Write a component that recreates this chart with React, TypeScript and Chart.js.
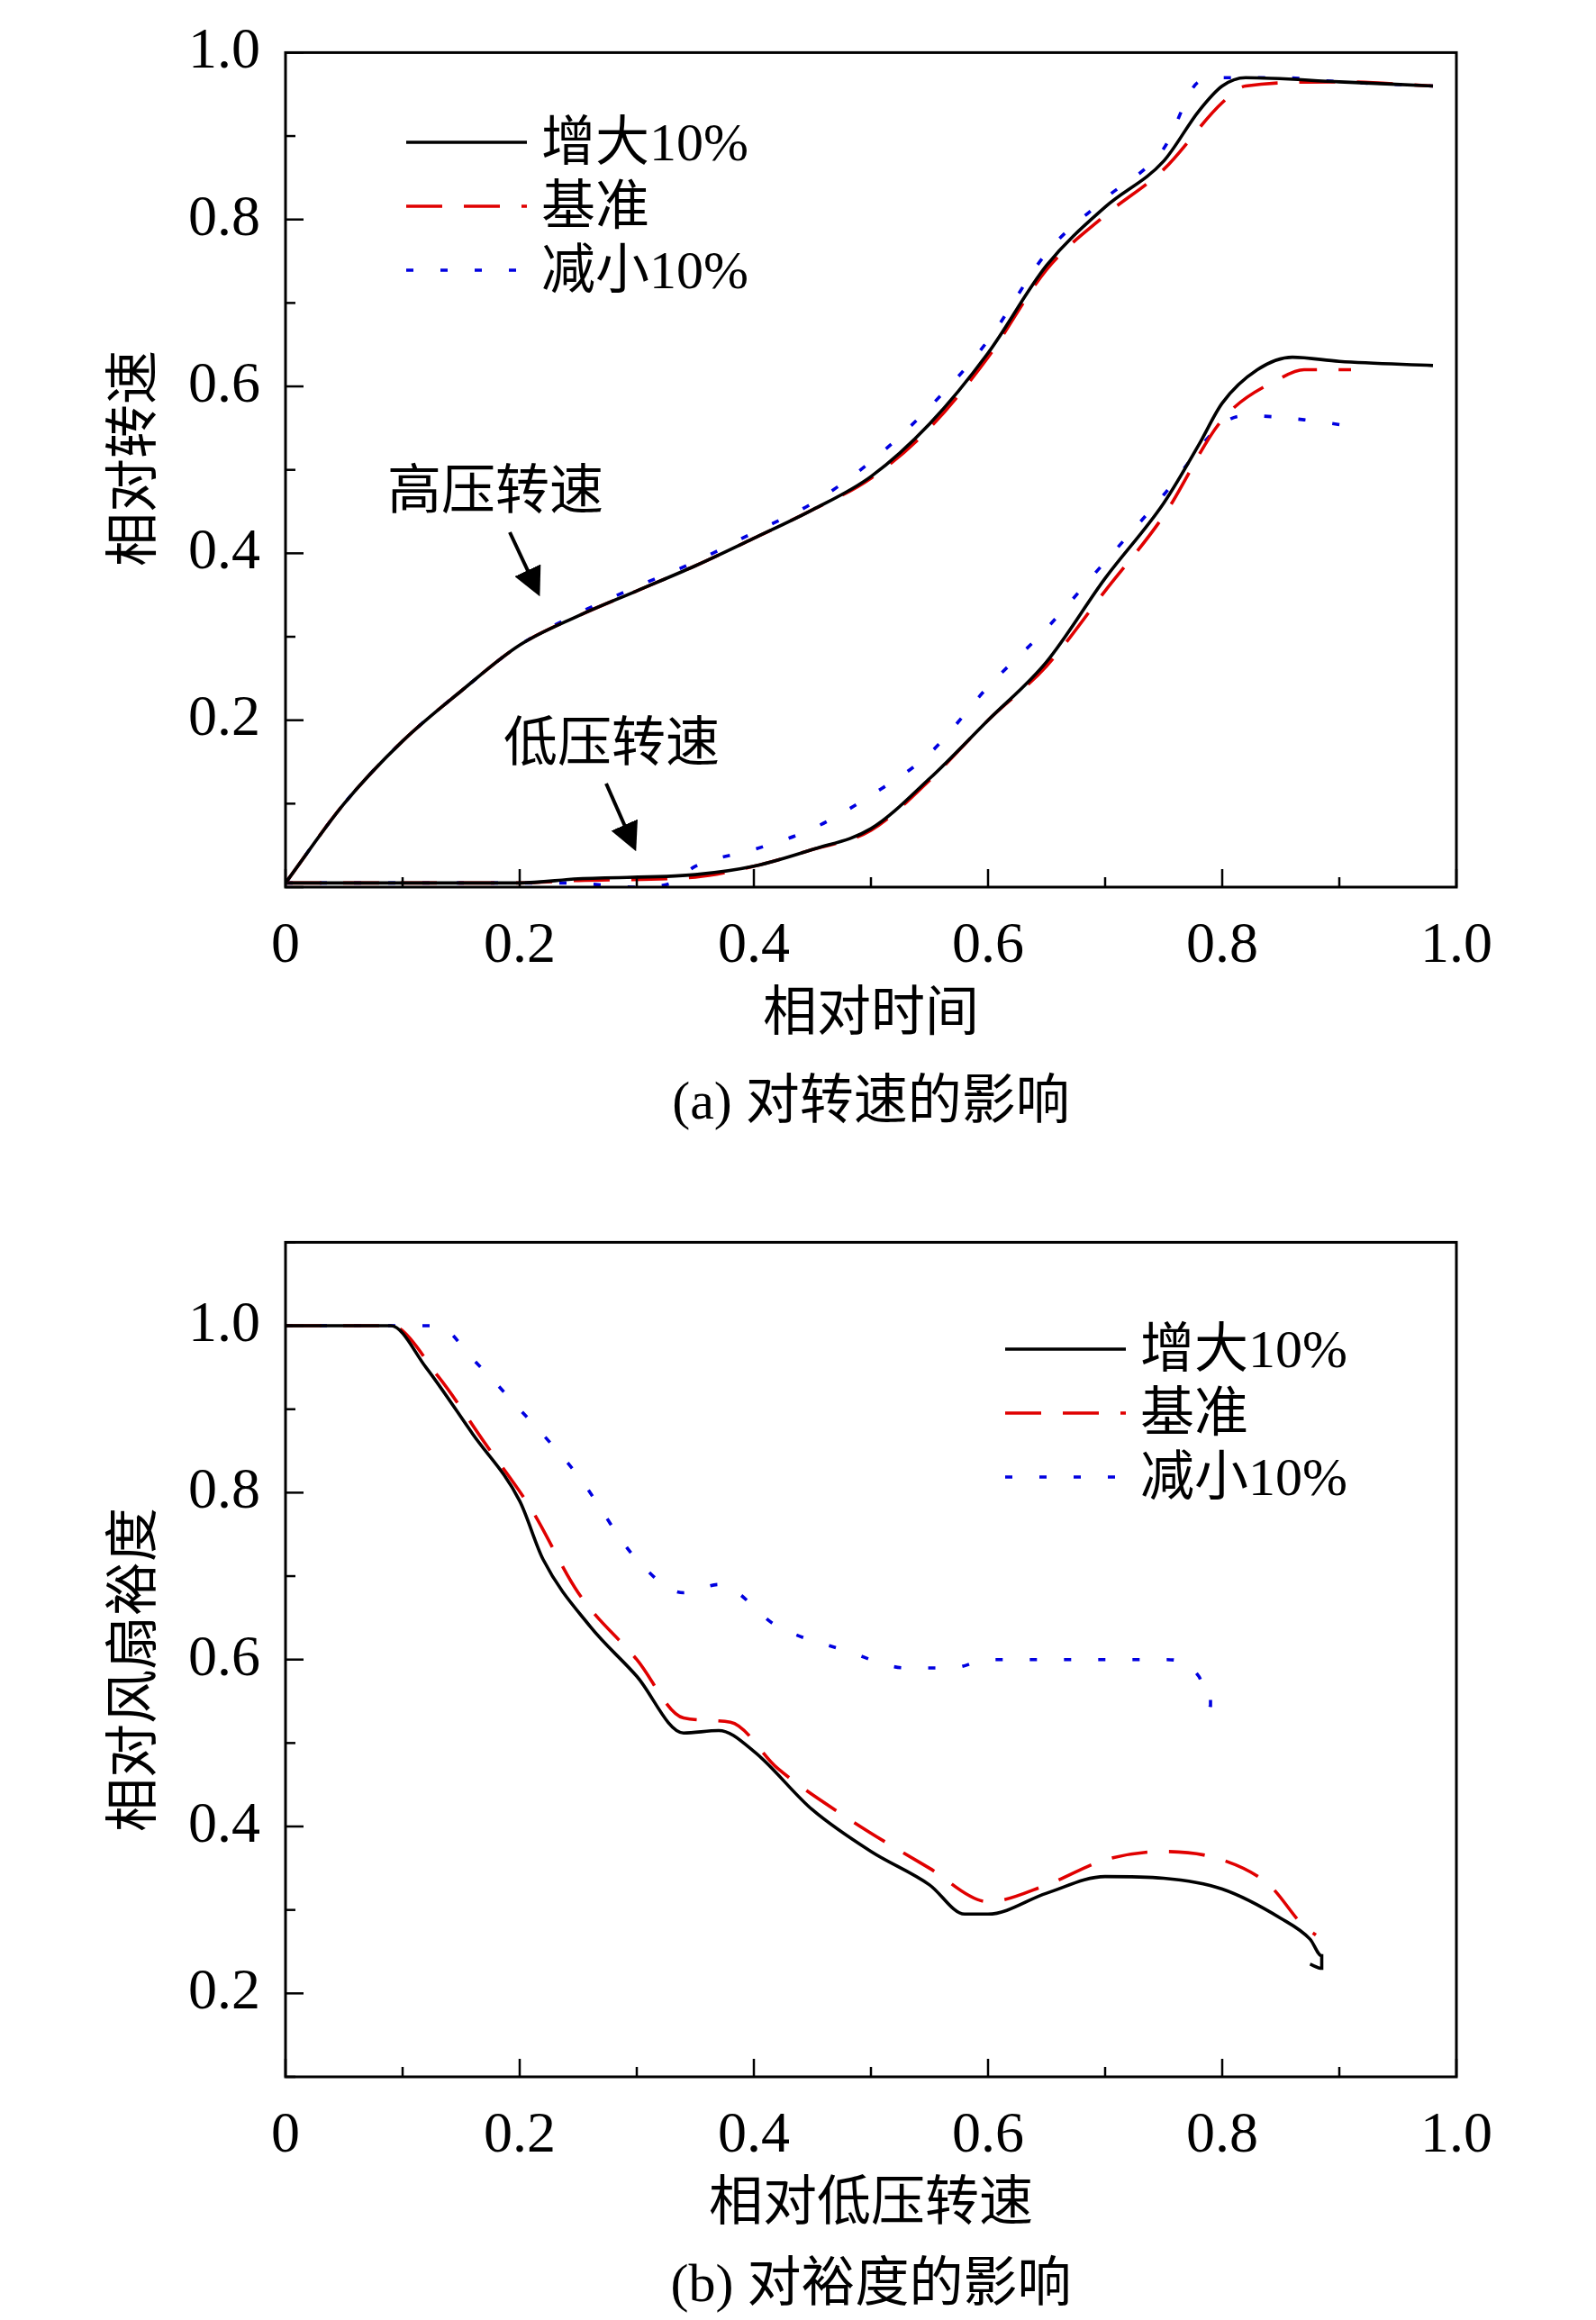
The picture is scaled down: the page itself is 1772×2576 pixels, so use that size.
import React, { useEffect, useRef } from "react";
import { Chart, registerables } from "chart.js";
Chart.register(...registerables);

type P = { x: number; y: number };
const mk = (a: number[][]): P[] => a.map(([x, y]) => ({ x, y }));

// Panel (a): relative speed vs relative time
const hpInc = mk([[0,0.005],[0.05,0.1],[0.1,0.175],[0.15,0.235],[0.2,0.29],[0.25,0.325],[0.3,0.355],[0.35,0.385],[0.4,0.418],[0.45,0.452],[0.5,0.492],[0.55,0.555],[0.6,0.64],[0.65,0.745],[0.7,0.815],[0.75,0.87],[0.78,0.93],[0.8,0.96],[0.82,0.97],[0.9,0.965],[0.98,0.96]]);
const hpBase = mk([[0,0.005],[0.05,0.1],[0.1,0.175],[0.15,0.235],[0.2,0.29],[0.25,0.325],[0.3,0.355],[0.35,0.385],[0.4,0.418],[0.45,0.452],[0.5,0.49],[0.55,0.55],[0.6,0.635],[0.65,0.74],[0.7,0.805],[0.75,0.86],[0.8,0.94],[0.82,0.96],[0.9,0.965],[0.98,0.96]]);
const hpDec = mk([[0,0.005],[0.05,0.1],[0.1,0.175],[0.15,0.235],[0.2,0.29],[0.25,0.328],[0.3,0.36],[0.35,0.39],[0.4,0.425],[0.45,0.46],[0.5,0.51],[0.55,0.575],[0.6,0.655],[0.65,0.76],[0.7,0.825],[0.75,0.885],[0.78,0.965],[0.8,0.97],[0.85,0.97],[0.9,0.965],[0.98,0.96]]);
const lpInc = mk([[0,0.005],[0.2,0.005],[0.25,0.01],[0.35,0.015],[0.4,0.025],[0.45,0.045],[0.5,0.07],[0.55,0.13],[0.6,0.2],[0.65,0.27],[0.7,0.37],[0.75,0.46],[0.78,0.53],[0.8,0.58],[0.83,0.62],[0.86,0.635],[0.9,0.63],[0.98,0.625]]);
const lpBase = mk([[0,0.005],[0.2,0.005],[0.25,0.008],[0.35,0.012],[0.4,0.025],[0.45,0.045],[0.5,0.068],[0.55,0.128],[0.6,0.2],[0.65,0.265],[0.7,0.355],[0.75,0.445],[0.8,0.56],[0.85,0.61],[0.87,0.62],[0.91,0.62]]);
const lpDec = mk([[0,0.005],[0.24,0.005],[0.3,0.0],[0.33,0.005],[0.35,0.025],[0.4,0.045],[0.45,0.07],[0.5,0.11],[0.55,0.16],[0.6,0.24],[0.65,0.31],[0.7,0.39],[0.75,0.47],[0.8,0.555],[0.82,0.565],[0.87,0.56],[0.92,0.55]]);

// Panel (b): relative fan margin vs relative LP speed
const bInc = mk([[0,1],[0.09,1],[0.12,0.95],[0.16,0.87],[0.2,0.79],[0.22,0.72],[0.26,0.64],[0.3,0.58],[0.34,0.512],[0.37,0.515],[0.4,0.49],[0.45,0.42],[0.5,0.37],[0.55,0.33],[0.58,0.295],[0.6,0.295],[0.65,0.32],[0.7,0.34],[0.75,0.338],[0.8,0.325],[0.85,0.29],[0.875,0.265],[0.885,0.245],[0.885,0.23],[0.875,0.235]]);
const bBase = mk([[0,1],[0.09,1],[0.13,0.94],[0.17,0.86],[0.21,0.78],[0.25,0.68],[0.3,0.6],[0.34,0.53],[0.38,0.525],[0.42,0.47],[0.48,0.41],[0.55,0.35],[0.6,0.31],[0.65,0.33],[0.7,0.36],[0.75,0.37],[0.8,0.36],[0.84,0.33],[0.87,0.28],[0.88,0.27]]);
const bDec = mk([[0,1],[0.13,1],[0.16,0.96],[0.2,0.9],[0.25,0.82],[0.3,0.72],[0.34,0.68],[0.37,0.69],[0.42,0.64],[0.48,0.61],[0.53,0.59],[0.57,0.59],[0.6,0.6],[0.7,0.6],[0.75,0.6],[0.78,0.58],[0.79,0.545],[0.79,0.565]]);

const seriesNames = ["增大10%", "基准", "减小10%"];
const colors = ["#000000", "#e00000", "#0000e0"];
const dashes: number[][] = [[], [40, 24], [8, 30]];

const SERIF = '"Liberation Serif", "Times New Roman", "Noto Sans CJK SC", serif';
const CJK = '"Liberation Serif", "Noto Sans CJK SC", serif';

const frame = {
  id: "frame",
  afterDraw(chart: any) {
    const { ctx, chartArea: a, scales } = chart;
    ctx.save();
    ctx.strokeStyle = "#000";
    ctx.lineWidth = 3;
    ctx.strokeRect(a.left, a.top, a.right - a.left, a.bottom - a.top);
    ctx.lineWidth = 2.5;
    for (let i = 0; i <= 10; i++) {
      const v = i / 10;
      const px = scales.x.getPixelForValue(v);
      const len = i % 2 === 0 ? 20 : 11;
      ctx.beginPath(); ctx.moveTo(px, a.bottom); ctx.lineTo(px, a.bottom - len); ctx.stroke();
    }
    const y = scales.y;
    for (let i = Math.round(y.min * 10); i <= Math.round(y.max * 10); i++) {
      const py = y.getPixelForValue(i / 10);
      const len = i % 2 === 0 ? 20 : 11;
      ctx.beginPath(); ctx.moveTo(a.left, py); ctx.lineTo(a.left + len, py); ctx.stroke();
    }
    ctx.restore();
  },
};

function ds(data: P[], i: number) {
  return {
    data, borderColor: colors[i], borderWidth: 3.6, borderDash: dashes[i],
    pointRadius: 0, cubicInterpolationMode: "monotone", fill: false,
  };
}

function Panel(props: { sets: any[]; ymin: number; ymax: number; h: number; top: number; bottom: number }) {
  const ref = useRef<HTMLCanvasElement>(null);
  useEffect(() => {
    const c = new Chart(ref.current!, {
      type: "line",
      data: { datasets: props.sets },
      options: {
        animation: false, responsive: false, parsing: true,
        layout: { padding: { left: 0, top: props.top, right: 155, bottom: 0 } },
        plugins: { legend: { display: false }, tooltip: { enabled: false } },
        scales: {
          x: {
            type: "linear", min: 0, max: 1,
            afterFit: (s: any) => { s.height = props.h - props.bottom; },
            grid: { display: false }, border: { display: false },
            ticks: { stepSize: 0.2, padding: 20, color: "#000", font: { family: SERIF, size: 64 },
              callback: (v: any) => (Math.abs(v) < 1e-9 ? "0" : Number(v).toFixed(1)) },
          },
          y: {
            type: "linear", min: props.ymin, max: props.ymax,
            afterFit: (s: any) => { s.width = 317; },
            grid: { display: false }, border: { display: false },
            ticks: { stepSize: 0.1, padding: 20, color: "#000", font: { family: SERIF, size: 64 },
              callback: (v: any) => { const k = Math.round(Number(v) * 10); return k > 0 && k % 2 === 0 ? (k / 10).toFixed(1) : ""; } },
          },
        },
      } as any,
      plugins: [frame],
    });
    return () => c.destroy();
  }, []);
  return <canvas ref={ref} width={1772} height={props.h} style={{ display: "block", width: 1772, height: props.h }} />;
}

function Legend(props: { left: number; top: number }) {
  return (
    <div style={{ position: "absolute", left: props.left, top: props.top }}>
      {seriesNames.map((n, i) => (
        <div key={n} style={{ display: "flex", alignItems: "center", height: 71 }}>
          <svg width={140} height={20}>
            <line x1={0} y1={10} x2={134} y2={10} stroke={colors[i]} strokeWidth={3.6} strokeDasharray={dashes[i].join(" ") || undefined} />
          </svg>
          <span style={{ fontFamily: CJK, fontSize: 60, marginLeft: 10, lineHeight: 1 }}>{n}</span>
        </div>
      ))}
    </div>
  );
}

const T = (p: { x: number; y: number; s?: number; rot?: boolean; children: any }) => (
  <div style={{ position: "absolute", left: p.x, top: p.y, transform: `translate(-50%,-50%)${p.rot ? " rotate(-90deg)" : ""}`,
    fontFamily: CJK, fontSize: p.s || 60, whiteSpace: "nowrap", lineHeight: 1 }}>{p.children}</div>
);

export default function App() {
  const aSets = [ds(hpInc, 0), ds(hpBase, 1), ds(hpDec, 2), ds(lpInc, 0), ds(lpBase, 1), ds(lpDec, 2)];
  const bSets = [ds(bInc, 0), ds(bBase, 1), ds(bDec, 2)];
  return (
    <div style={{ position: "absolute", left: 0, top: 0, width: 1772, height: 2576, background: "#fff" }}>
      <div style={{ position: "absolute", left: 0, top: 0 }}>
        <Panel sets={aSets} ymin={0} ymax={1} h={1090} top={12} bottom={985} />
      </div>
      <div style={{ position: "absolute", left: 0, top: 1321 }}>
        <Panel sets={bSets} ymin={0.1} ymax={1.1} h={1090} top={12} bottom={985} />
      </div>
      <Legend left={451} top={122} />
      <Legend left={1116} top={1462} />
      <T x={550} y={545}>高压转速</T>
      <T x={679} y={825}>低压转速</T>
      <svg style={{ position: "absolute", left: 0, top: 0 }} width={1772} height={1000}>
        <defs>
          <marker id="ah" markerWidth="8" markerHeight="8" refX="6" refY="4" orient="auto" markerUnits="strokeWidth">
            <path d="M0,0 L8,4 L0,8 z" fill="#000" />
          </marker>
        </defs>
        <line x1={566} y1={591} x2={596} y2={655} stroke="#000" strokeWidth={4} markerEnd="url(#ah)" />
        <line x1={673} y1={870} x2={703} y2={938} stroke="#000" strokeWidth={4} markerEnd="url(#ah)" />
      </svg>
      <T x={148} y={509} rot>相对转速</T>
      <T x={967} y={1124}>相对时间</T>
      <T x={967} y={1222}>(a) 对转速的影响</T>
      <T x={148} y={1854} rot>相对风扇裕度</T>
      <T x={967} y={2445}>相对低压转速</T>
      <T x={967} y={2535}>(b) 对裕度的影响</T>
    </div>
  );
}
